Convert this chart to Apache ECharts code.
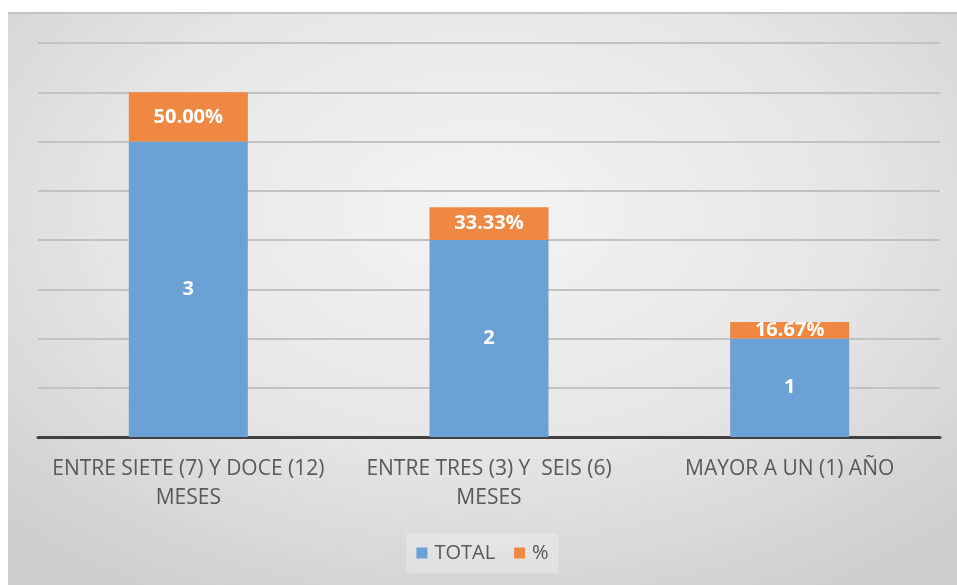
<!DOCTYPE html>
<html>
<head>
<meta charset="utf-8">
<script src="https://cdn.jsdelivr.net/npm/echarts@6/dist/echarts.min.js"></script>
<style>
html,body{margin:0;padding:0;background:#fff;width:957px;height:585px;overflow:hidden;}
#chart{position:absolute;left:8px;top:12px;width:949px;height:573px;
background:radial-gradient(ellipse 70% 75% at 50% 35%, #f4f4f4 0%, #e6e6e6 55%, #cfcfcf 100%);
box-shadow: inset 0 2px 0 #c4c4c4;}
</style>
</head>
<body>
<div id="chart"></div>
<script>
const categories = ["ENTRE SIETE (7) Y DOCE (12)\nMESES", "ENTRE TRES (3) Y  SEIS (6)\nMESES", "MAYOR A UN (1) AÑO"];
const totals = [3, 2, 1];
const percents = [50.00, 33.33, 16.67];
const seriesNames = ["TOTAL", "%"];

const chart = echarts.init(document.getElementById('chart'), null, {renderer: 'canvas'});
const font = '"Open Sans", "Noto Sans", sans-serif';
chart.setOption({
  backgroundColor: 'transparent',
  animation: false,
  grid: {left: 30, right: 17, top: 31, bottom: 148},
  legend: {
    bottom: 12, left: 'center',
    itemWidth: 11, itemHeight: 11, itemGap: 19,
    icon: 'rect',
    padding: [10, 10, 10, 10],
    backgroundColor: 'rgba(255,255,255,0.25)',
    textStyle: {fontFamily: font, fontSize: 20, color: '#595959', padding: [0, 0, 0, 2]},
    data: seriesNames
  },
  xAxis: {
    type: 'category',
    data: categories,
    axisLine: {lineStyle: {color: '#404040', width: 3}},
    axisTick: {show: false},
    axisLabel: {fontFamily: font, fontSize: 21, color: '#595959', lineHeight: 29, margin: 18, interval: 0}
  },
  yAxis: {
    type: 'value', min: 0, max: 4, interval: 0.5,
    axisLabel: {show: false}, axisLine: {show: false}, axisTick: {show: false},
    splitLine: {lineStyle: {color: '#c2c2c2', width: 2}}
  },
  series: [
    {
      name: seriesNames[0], type: 'bar', stack: 's', barWidth: 119,
      data: totals,
      itemStyle: {color: '#6aa2d6'},
      label: {show: true, position: 'inside', color: '#fff', fontWeight: 'bold', fontSize: 20, fontFamily: font}
    },
    {
      name: seriesNames[1], type: 'bar', stack: 's', barWidth: 119,
      data: percents.map(p => p / 100),
      itemStyle: {color: '#ee8843'},
      label: {show: true, position: 'inside', color: '#fff', fontWeight: 'bold', fontSize: 20, fontFamily: font,
        formatter: p => percents[p.dataIndex].toFixed(2) + '%'}
    }
  ]
});
</script>
</body>
</html>
